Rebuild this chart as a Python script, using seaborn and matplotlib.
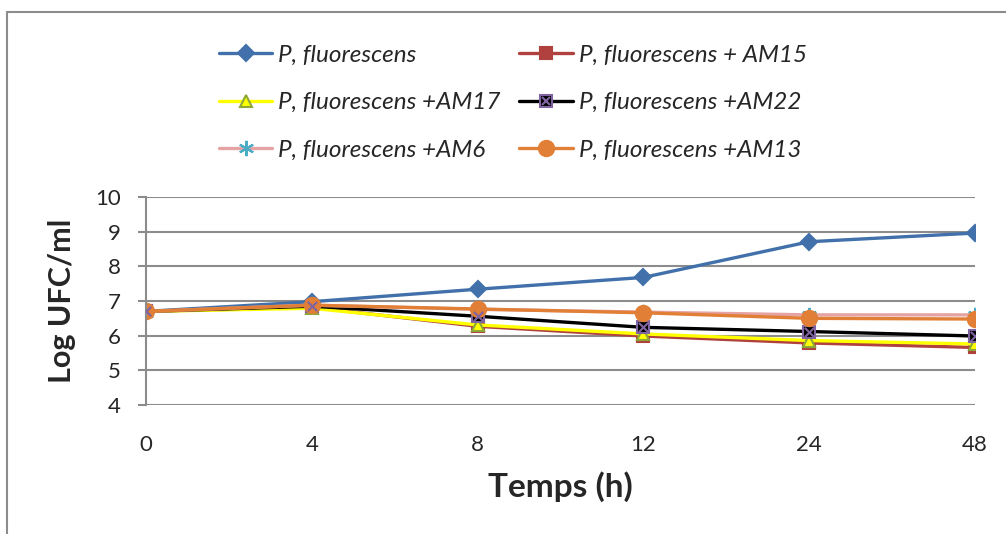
import pandas as pd
import matplotlib.pyplot as plt
from matplotlib.lines import Line2D
from matplotlib.legend_handler import HandlerTuple
import seaborn as sns

# === Data ===
temps = ["0", "4", "8", "12", "24", "48"]
pf = [6.70, 6.98, 7.34, 7.68, 8.71, 8.96]
pf_am15 = [6.70, 6.82, 6.27, 5.99, 5.79, 5.66]
pf_am17 = [6.70, 6.79, 6.31, 6.05, 5.86, 5.76]
pf_am22 = [6.70, 6.85, 6.56, 6.24, 6.12, 5.99]
pf_am6 = [6.70, 6.88, 6.76, 6.68, 6.60, 6.60]
pf_am13 = [6.70, 6.88, 6.77, 6.66, 6.50, 6.48]

labels = ["P, fluorescens", "P, fluorescens + AM15", "P, fluorescens +AM17",
          "P, fluorescens +AM22", "P, fluorescens +AM6", "P, fluorescens +AM13"]
series = [pf, pf_am15, pf_am17, pf_am22, pf_am6, pf_am13]

sns.set_style("white")
plt.rcParams["font.family"] = ["Lato", "DejaVu Sans"]

fig = plt.figure(figsize=(10.06, 5.34), dpi=100)
ax = fig.add_axes([146 / 1006, 1 - 405 / 534, (975 - 146) / 1006, (405 - 197) / 534])

# line colour, marker, marker face, marker edge, marker size
styles = [
    ("#4170AA", "D", "#4170AA", "#4170AA", 8),
    ("#B0413E", "s", "#B0413E", "#B0413E", 8),
    ("#FFFF00", "^", "#FFFF00", "#8DA83A", 9),
    ("#000000", "s", "#000000", "#8064A2", 9),
    ("#E6A3A3", (6, 2, 0), "#4BACC6", "#4BACC6", 11),
    ("#E07F35", "o", "#E07F35", "#E07F35", 11),
]

handles = []
for vals, lab, (col, mk, fc, ec, ms) in zip(series, labels, styles):
    d = pd.DataFrame({"temps": temps, "ufc": vals})
    sns.lineplot(data=d, x="temps", y="ufc", ax=ax, color=col, lw=2.4,
                 marker=mk, markersize=ms, markerfacecolor=fc,
                 markeredgecolor=ec, markeredgewidth=1.5, sort=False)
    h = Line2D([], [], color=col, lw=2.4, marker=mk, markersize=ms,
               markerfacecolor=fc, markeredgecolor=ec, markeredgewidth=1.5)
    if lab.endswith("AM22"):
        # purple cross on top of the black square
        sns.scatterplot(data=d, x="temps", y="ufc", ax=ax, marker="x",
                        s=45, color="#8064A2", linewidth=1.5, zorder=5)
        h = (h, Line2D([], [], ls="none", marker="x", markersize=6,
                       color="#8064A2", markeredgewidth=1.5))
    handles.append(h)

ax.set_xlim(0, 5)
ax.set_ylim(4, 10)
ax.set_yticks(range(4, 11))
ax.yaxis.grid(True, color="#8C8C8C", lw=1.5)
ax.xaxis.grid(False)
for s in ["top", "right", "bottom"]:
    ax.spines[s].set_visible(False)
ax.spines["left"].set_color("#8C8C8C")
ax.spines["left"].set_linewidth(1.5)
ax.tick_params(axis="y", left=True, length=6, width=1.5, color="#8C8C8C",
               pad=12, labelsize=16)
ax.tick_params(axis="x", bottom=False, pad=18, labelsize=16)
ax.set_xlabel("Temps (h)", fontsize=24, fontweight="bold", labelpad=12)
ax.set_ylabel("Log UFC/ml", fontsize=22, fontweight="bold", labelpad=14)

# legend filled row by row like the reference
order = [0, 2, 4, 1, 3, 5]
fig.legend([handles[i] for i in order], [labels[i] for i in order], ncol=2,
           loc="upper left", bbox_to_anchor=(197 / 1006, 1 - 23 / 534),
           frameon=False, prop={"style": "italic", "size": 17.5},
           handlelength=2.2, handletextpad=0.25, columnspacing=0.75,
           labelspacing=1.08,
           handler_map={tuple: HandlerTuple(ndivide=1)})

# chart border (left and top edges visible in the reference)
fig.add_artist(Line2D([7 / 1006, 7 / 1006], [0, 1 - 12 / 534],
                      color="#8C8C8C", lw=1.5))
fig.add_artist(Line2D([7 / 1006, 1], [1 - 12 / 534, 1 - 12 / 534],
                      color="#8C8C8C", lw=1.5))

fig.savefig("out.png", dpi=100)
